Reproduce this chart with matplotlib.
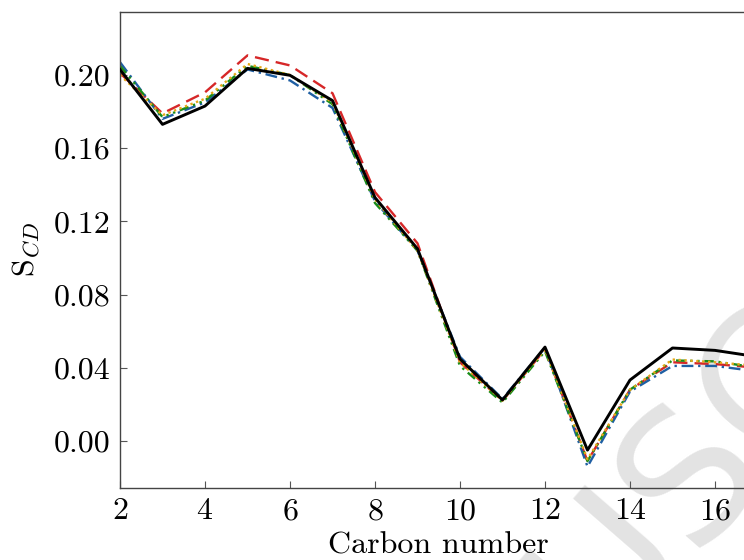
import numpy as np
import matplotlib
matplotlib.use('Agg')
import matplotlib.pyplot as plt
from matplotlib.ticker import FormatStrFormatter

plt.rcParams['font.family'] = 'serif'
plt.rcParams['font.serif'] = ['cmr10']
plt.rcParams['mathtext.fontset'] = 'cm'
plt.rcParams['axes.unicode_minus'] = False
plt.rcParams['axes.formatter.use_mathtext'] = True

# order parameter per carbon
carbon = [2, 3, 4, 5, 6, 7, 8, 9, 10, 11, 12, 13, 14, 15, 16, 17]
s_black = [0.203, 0.173, 0.183, 0.2036, 0.1998, 0.186, 0.133, 0.105, 0.0448, 0.0224, 0.0513, -0.005, 0.0333, 0.0508, 0.0495, 0.046]
s_red = [0.201, 0.179, 0.1905, 0.2107, 0.2052, 0.190, 0.136, 0.108, 0.043, 0.022, 0.050, -0.011, 0.028, 0.0430, 0.0420, 0.040]
s_blue = [0.207, 0.176, 0.185, 0.203, 0.197, 0.182, 0.131, 0.104, 0.046, 0.023, 0.051, -0.014, 0.027, 0.041, 0.041, 0.038]
s_green = [0.205, 0.177, 0.186, 0.205, 0.200, 0.184, 0.130, 0.104, 0.041, 0.021, 0.049, -0.011, 0.028, 0.0440, 0.0435, 0.040]
s_orange = [0.200, 0.178, 0.187, 0.206, 0.200, 0.185, 0.132, 0.104, 0.043, 0.022, 0.050, -0.010, 0.028, 0.0445, 0.043, 0.041]

fig = plt.figure(figsize=(7.44, 5.6), dpi=100)
ax = fig.add_axes([120/744, 72/560, 637.5/744, 476/560])
ax.set_zorder(1)
ax.patch.set_alpha(0)

# faint watermark behind the curves
fig.text(0.925, 0.155, 'USC', fontsize=132, color='#e3e3e3', rotation=49,
         ha='center', va='center', family='DejaVu Sans', zorder=0)

ax.plot(carbon, s_red, color='#d62728', lw=1.7, ls=(0, (6, 3)))
ax.plot(carbon, s_blue, color='#1f5fa3', lw=1.7, ls=(0, (5, 2, 1, 2)))
ax.plot(carbon, s_green, color='#1a8c1a', lw=1.7, ls=(0, (4, 2, 1, 2, 1, 2)))
ax.plot(carbon, s_orange, color='#e6a817', lw=1.7, ls=(0, (1, 1.5)))
ax.plot(carbon, s_black, color='black', lw=2.1, zorder=5)

ax.set_xlim(2, 17)
ax.set_ylim(-0.0257, 0.2344)
ax.set_xticks([2, 4, 6, 8, 10, 12, 14, 16])
ax.set_yticks([0.0, 0.04, 0.08, 0.12, 0.16, 0.20])
ax.yaxis.set_major_formatter(FormatStrFormatter('%.2f'))
ax.tick_params(direction='in', length=5, width=0.8, color='#555555',
               labelsize=23, pad=7)
for sp in ax.spines.values():
    sp.set_color('#444444')
    sp.set_linewidth(1.0)

ax.set_xlabel('Carbon number', fontsize=23, labelpad=5)
ax.set_ylabel(r'S$_{CD}$', fontsize=23, labelpad=8)

fig.savefig('out.png', dpi=100)
